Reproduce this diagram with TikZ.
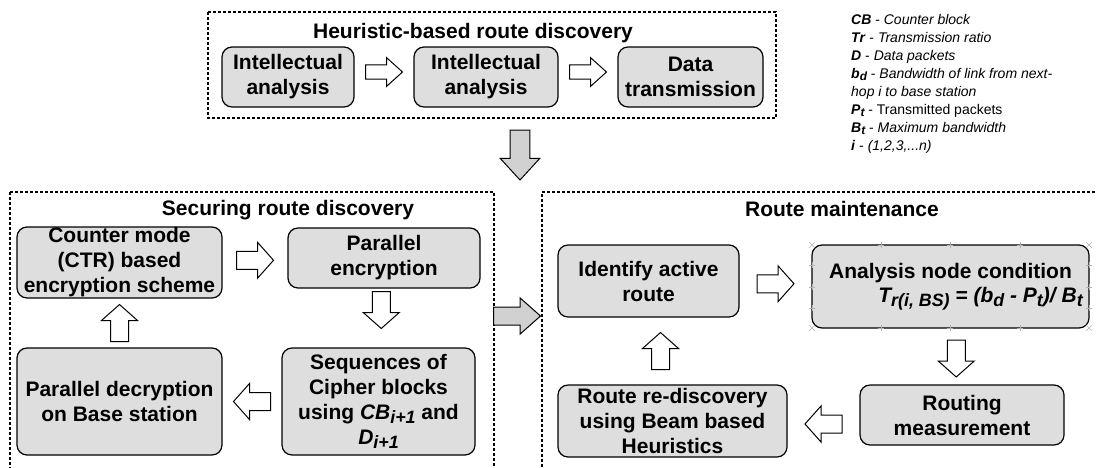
\documentclass[tikz,border=0pt]{standalone}
\usepackage{fontspec}
\setmainfont{Liberation Sans}
\usepackage{graphicx}
\usetikzlibrary{calc}

\definecolor{boxgray}{gray}{0.87}
\definecolor{arrowgray}{gray}{0.82}

\newcommand{\boxfont}{\fontsize{21}{25}\selectfont\bfseries}
\newcommand{\legfont}{\fontsize{14}{18}\selectfont}
\newcommand{\subtxt}[1]{\raisebox{-0.35ex}{\scalebox{0.85}{#1}}}
% block arrow pointing right, turned by #3
\newcommand{\barrow}[3][]{%
  \draw [blockarrow, shift={#2}, rotate=#3, #1] (-18.5,-9) -- (2.5,-9) -- (2.5,-18) -- (18.5,0) -- (2.5,18) -- (2.5,9) -- (-18.5,9) -- cycle;}

\tikzset{
  box/.style={draw, fill=boxgray, rounded corners=10pt, line width=1.2pt, align=center, font=\boxfont, inner sep=0pt},
  frame/.style={draw, line width=1.1pt, dash pattern=on 3pt off 2pt},
  title/.style={font=\boxfont, inner sep=0pt},
  blockarrow/.style={draw, fill=white, line width=1pt, line join=miter},
  handle/.style={draw=gray!60, line width=0.6pt}
}

\begin{document}
\begin{tikzpicture}[x=1pt, y=-1pt]
    \useasboundingbox (0,0) rectangle (1097,467);

    % heuristic-based route discovery
    \draw [frame] (208,12) rectangle (776,118);
    \node [title] (tHeur) at (473,33) {Heuristic-based route discovery};
    \node [box, minimum width=132pt, minimum height=60pt] (ia1) at (288,77) {Intellectual\\analysis};
    \node [box, minimum width=144pt, minimum height=60pt] (ia2) at (486,77) {Intellectual\\analysis};
    \node [box, minimum width=145pt, minimum height=60pt] (dt) at (690.5,77) {Data\\transmission};
    \barrow[yshift=5pt, yscale=0.8]{($(ia1.east)!0.5!(ia2.west)$)}{0}
    \barrow[yshift=5pt, yscale=0.8]{($(ia2.east)!0.5!(dt.west)$)}{0}

    \barrow[fill=arrowgray, xscale=1.35, yscale=1.1]{(520,155)}{-90}

    % securing route discovery
    \draw [frame] (10,192) -- (494,192) -- (494,480) (10,480) -- (10,192);
    \node [title] (tSec) at (288,210) {Securing route discovery};
    \node [box, minimum width=205pt, minimum height=71pt] (ctr) at (119.5,262.5) {Counter mode\\(CTR) based\\encryption scheme};
    \node [box, minimum width=192pt, minimum height=60pt] (penc) at (384,258) {Parallel\\encryption};
    \node [box, minimum width=193pt, minimum height=107pt] (seq) at (378.5,401.5) {Sequences of\\Cipher blocks\\using \textit{CB\subtxt{i+1}} and\\\textit{D\subtxt{i+1}}};
    \node [box, minimum width=205pt, minimum height=107pt] (pdec) at (119.5,401.5) {Parallel decryption\\on Base station};
    \barrow{($(ctr.east)!0.5!(penc.west)$)}{0}
    \barrow[xshift=-8pt]{($(penc.south)!0.5!(seq.north)$)}{-90}
    \barrow{($(seq.west)!0.5!(pdec.east)$)}{180}
    \barrow{($(pdec.north)!0.5!(ctr.south)$)}{90}

    \barrow[fill=arrowgray, xscale=1.27]{(517,316)}{0}

    % route maintenance
    \draw [frame] (1110,192) -- (542,192) -- (542,480);
    \node [title] (tMaint) at (842,209) {Route maintenance};
    \node [box, minimum width=181pt, minimum height=72pt] (iar) at (648.5,281) {Identify active\\route};
    \node [box, minimum width=277pt, minimum height=83pt] (anc) at (950.5,286.5) {Analysis node condition\\[-1pt]\hspace*{60pt}\textit{T\subtxt{r(i, BS)} = (b\subtxt{d} - P\subtxt{t})/ B\subtxt{t}}};
    \node [box, minimum width=204pt, minimum height=60pt] (rmeas) at (962,415) {Routing\\measurement};
    \node [box, minimum width=229pt, minimum height=72pt] (rrd) at (672.5,421) {Route re-discovery\\using Beam based\\Heuristics};
    \barrow{($(iar.east)!0.5!(anc.west)$)}{0}
    \barrow[xshift=2pt]{($(anc.south)!0.5!(rmeas.north)$)}{-90}
    \barrow[yshift=6pt]{($(rmeas.west)!0.5!(rrd.east)$)}{180}
    \barrow{($(rrd.north)!0.5!(iar.south)$)}{90}

    % selection handles round the condition box
    \foreach \cx/\cy in {812/245, 1089/245, 812/328, 1089/328}
        \draw [handle] (\cx,\cy) +(-3,-3) -- +(3,3) +(-3,3) -- +(3,-3);
    \foreach \hx in {881, 950, 1020} {
        \draw [handle] (\hx,245) +(-3,0) -- +(3,0) +(0,-3) -- +(0,3);
        \draw [handle] (\hx,328) +(-3,0) -- +(3,0) +(0,-3) -- +(0,3);
    }
    \foreach \hy in {265, 287, 308} {
        \draw [handle] (812,\hy) +(-3,0) -- +(3,0) +(0,-3) -- +(0,3);
        \draw [handle] (1089,\hy) +(-3,0) -- +(3,0) +(0,-3) -- +(0,3);
    }

    % legend
    \node [anchor=north west, align=left, font=\legfont, inner sep=0pt] (legend) at (851,14) {%
        \textbf{\textit{CB}} - \textit{Counter block}\\
        \textbf{\textit{Tr}} - \textit{Transmission ratio}\\
        \textbf{\textit{D}} - \textit{Data packets}\\
        \textbf{\textit{b\subtxt{d}}} - \textit{Bandwidth of link from next-}\\
        \textit{hop i to base station}\\
        \textbf{\textit{P\subtxt{t}}} - Transmitted packets\\
        \textbf{\textit{B\subtxt{t}}} - \textit{Maximum bandwidth}\\
        \textbf{\textit{i}} - \textit{(1,2,3,...n)}};
\end{tikzpicture}
\end{document}
